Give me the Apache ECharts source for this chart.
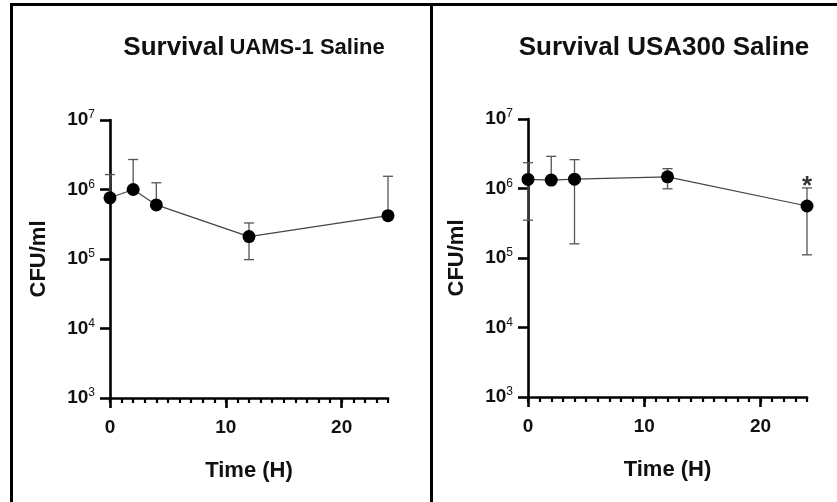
<!DOCTYPE html>
<html>
<head>
<meta charset="utf-8">
<script src="https://cdn.jsdelivr.net/npm/echarts@6/dist/echarts.min.js"></script>
<style>
  html, body { margin: 0; padding: 0; background: #fff; }
  #main { width: 837px; height: 502px; }
</style>
</head>
<body>
<div id="main"></div>
<script>
// 时间点 (H)
var times = [0, 2, 4, 12, 24];

// UAMS-1 saline
var uamsMean = [7.6e5, 1.0e6, 6.0e5, 2.1e5, 4.2e5];
var uamsUpper = [1.64e6, 2.7e6, 1.25e6, 3.3e5, 1.55e6];
var uamsLower = [null, null, null, 9.8e4, null];

// USA300 saline
var usaMean = [1.35e6, 1.32e6, 1.36e6, 1.47e6, 5.6e5];
var usaUpper = [2.35e6, 2.9e6, 2.6e6, 1.93e6, 1.02e6];
var usaLower = [3.5e5, null, 1.6e5, 9.9e5, 1.11e5];

var xTicks = [0, 10, 20];
var starIndex = 4; // USA300, 24 h

var FONT = 'Liberation Sans';

function pairs(xs, ys) {
    var out = [];
    for (var i = 0; i < xs.length; i++) {
        out.push([xs[i], ys[i]]);
    }
    return out;
}

function errRows(xs, mean, lo, hi) {
    var out = [];
    for (var i = 0; i < xs.length; i++) {
        out.push([xs[i], mean[i], lo[i] == null ? mean[i] : lo[i], hi[i] == null ? mean[i] : hi[i], lo[i] == null ? 0 : 1, hi[i] == null ? 0 : 1]);
    }
    return out;
}

function renderErr(params, api) {
    var x = api.value(0);
    var pLo = api.coord([x, api.value(2)]);
    var pHi = api.coord([x, api.value(3)]);
    var st = {stroke: '#555', lineWidth: 1.3};
    var kids = [{type: 'line', shape: {x1: pLo[0], y1: pLo[1], x2: pHi[0], y2: pHi[1]}, style: st}];
    if (api.value(4)) {
        kids.push({type: 'line', shape: {x1: pLo[0] - 5, y1: pLo[1], x2: pLo[0] + 5, y2: pLo[1]}, style: st});
    }
    if (api.value(5)) {
        kids.push({type: 'line', shape: {x1: pHi[0] - 5, y1: pHi[1], x2: pHi[0] + 5, y2: pHi[1]}, style: st});
    }
    return {type: 'group', children: kids};
}

function xAxes(gi) {
    return [{
        gridIndex: gi, type: 'value', min: 0, max: 24,
        name: 'Time (H)', nameLocation: 'middle', nameGap: 62,
        nameTextStyle: {fontFamily: FONT, fontWeight: 'bold', fontSize: 22, color: '#111'},
        axisLine: {show: true, lineStyle: {color: '#000', width: 2.6}},
        axisTick: {show: true, customValues: xTicks, length: 10, lineStyle: {color: '#000', width: 2.6}},
        axisLabel: {customValues: xTicks, margin: 20, fontFamily: FONT, fontWeight: 'bold', fontSize: 19, color: '#111'},
        splitLine: {show: false}
    }, {
        gridIndex: gi, type: 'value', min: 0, max: 24, interval: 1, position: 'bottom',
        axisLine: {show: false},
        axisTick: {show: true, length: 5, lineStyle: {color: '#000', width: 2.2}},
        axisLabel: {show: false},
        splitLine: {show: false}
    }];
}

function yAxis(gi) {
    return {
        gridIndex: gi, type: 'log', logBase: 10, min: 1e3, max: 1e7,
        name: 'CFU/ml', nameLocation: 'middle', nameGap: 60, nameRotate: 90,
        nameTextStyle: {fontFamily: FONT, fontWeight: 'bold', fontSize: 22, color: '#111'},
        axisLine: {show: true, lineStyle: {color: '#000', width: 2.6}},
        axisTick: {show: true, length: 10, lineStyle: {color: '#000', width: 2.6}},
        axisLabel: {
            margin: 15,
            formatter: function (v) {
                return '{b|10}{s|' + Math.round(Math.log10(v)) + '}';
            },
            rich: {
                b: {fontFamily: FONT, fontWeight: 'bold', fontSize: 19, color: '#111', lineHeight: 22},
                s: {fontFamily: FONT, fontSize: 12, color: '#111', verticalAlign: 'top', lineHeight: 12}
            }
        },
        splitLine: {show: false}
    };
}

function panelSeries(gi, mean, lo, hi) {
    return [{
        type: 'custom', xAxisIndex: gi * 2, yAxisIndex: gi,
        renderItem: renderErr,
        encode: {x: 0, y: [1, 2, 3]},
        data: errRows(times, mean, lo, hi),
        z: 1, silent: true
    }, {
        type: 'line', xAxisIndex: gi * 2, yAxisIndex: gi,
        data: pairs(times, mean),
        symbol: 'circle', symbolSize: 13,
        itemStyle: {color: '#000'},
        lineStyle: {color: '#444', width: 1.2},
        z: 3, silent: true
    }];
}

var chart = echarts.init(document.getElementById('main'), null, {renderer: 'canvas'});

var series = panelSeries(0, uamsMean, uamsLower, uamsUpper).concat(panelSeries(1, usaMean, usaLower, usaUpper));
series.push({
    type: 'scatter', xAxisIndex: 2, yAxisIndex: 1,
    data: [[times[starIndex], usaUpper[starIndex]]],
    symbolSize: 0,
    label: {show: true, formatter: '*', position: 'top', distance: -12, fontFamily: FONT, fontWeight: 'bold', fontSize: 26, color: '#000'},
    z: 4, silent: true
});

var option = {
    backgroundColor: '#fff',
    animation: false,
    title: [{
        text: '{a|Survival} {b|UAMS-1 Saline}',
        left: 249, top: 30, textAlign: 'center',
        textStyle: {
            rich: {
                a: {fontFamily: FONT, fontWeight: 'bold', fontSize: 26, color: '#111', verticalAlign: 'bottom'},
                b: {fontFamily: FONT, fontWeight: 'bold', fontSize: 22, color: '#111', verticalAlign: 'bottom', padding: [0, 0, 2, 0]}
            }
        }
    }, {
        text: 'Survival USA300 Saline',
        left: 659, top: 30, textAlign: 'center',
        textStyle: {fontFamily: FONT, fontWeight: 'bold', fontSize: 26, color: '#111'}
    }],
    grid: [
        {left: 110, top: 120, width: 278, height: 278},
        {left: 528, top: 119, width: 279, height: 278}
    ],
    xAxis: xAxes(0).concat(xAxes(1)),
    yAxis: [yAxis(0), yAxis(1)],
    series: series,
    graphic: [
        {type: 'line', shape: {x1: 11, y1: 4.5, x2: 837, y2: 4.5}, style: {stroke: '#000', lineWidth: 3}},
        {type: 'line', shape: {x1: 11.5, y1: 3, x2: 11.5, y2: 502}, style: {stroke: '#000', lineWidth: 3}},
        {type: 'line', shape: {x1: 431.5, y1: 3, x2: 431.5, y2: 502}, style: {stroke: '#000', lineWidth: 3}}
    ]
};

chart.setOption(option);
</script>
</body>
</html>
